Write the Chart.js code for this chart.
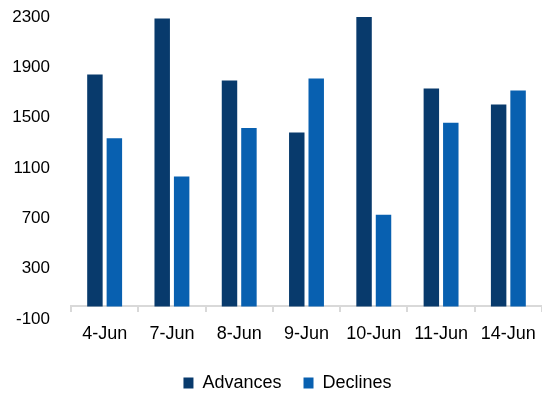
<!DOCTYPE html>
<html>
<head>
<meta charset="utf-8">
<script src="https://cdn.jsdelivr.net/npm/chart.js@4/dist/chart.umd.min.js"></script>
<style>
  html, body { margin: 0; padding: 0; background: #ffffff; }
  #wrap { width: 542px; height: 393px; position: relative; }
</style>
</head>
<body>
<div id="wrap"><canvas id="chart"></canvas></div>
<script>
// Daily market breadth: number of advancing vs declining issues
const categories = ['4-Jun', '7-Jun', '8-Jun', '9-Jun', '10-Jun', '11-Jun', '14-Jun'];
const advances = [1844, 2289, 1796, 1383, 2311, 1732, 1604];
const declines = [1337, 1033, 1417, 1812, 729, 1460, 1716];
const yMin = -100;
const yMax = 2300;
const yStep = 400;

const labelFont = "'Liberation Sans', Arial, sans-serif";
const axisGrey = '#d9d9d9';

// Nudge the legend row to the right of the canvas centre
const legendShift = {
  id: 'legendShift',
  afterLayout(chart) {
    const lg = chart.legend;
    if (lg) { lg.left += 16; lg.right += 16; }
  }
};

new Chart(document.getElementById('chart'), {
  type: 'bar',
  data: {
    labels: categories,
    datasets: [
      { label: 'Advances', data: advances, backgroundColor: '#083a6c',
        categoryPercentage: 0.578, barPercentage: 0.795 },
      { label: 'Declines', data: declines, backgroundColor: '#0860b0',
        categoryPercentage: 0.578, barPercentage: 0.795 }
    ]
  },
  plugins: [legendShift],
  options: {
    responsive: true,
    maintainAspectRatio: false,
    animation: false,
    layout: { padding: { top: 17, right: -1, left: 0, bottom: -9 } },
    plugins: {
      tooltip: { enabled: false },
      legend: {
        position: 'bottom',
        // empty title used as a spacer between the axis labels and the legend row
        title: { display: true, text: '', font: { size: 10 }, padding: { top: 21, bottom: 0 } },
        labels: {
          boxWidth: 10,
          boxHeight: 11,
          padding: 22,
          color: '#000000',
          font: { family: labelFont, size: 18 }
        }
      }
    },
    scales: {
      x: {
        position: { y: 0 },
        grid: {
          display: true,
          drawOnChartArea: false,
          drawTicks: true,
          tickLength: 5,
          color: axisGrey,
          lineWidth: 2,
          offset: true
        },
        border: { display: true, color: axisGrey, width: 2 },
        ticks: {
          color: '#000000',
          padding: 12,
          maxRotation: 0,
          autoSkip: false,
          font: { family: labelFont, size: 18 }
        },
        afterFit: (scale) => { scale.paddingLeft = 0; scale.paddingRight = 0; }
      },
      y: {
        min: yMin,
        max: yMax,
        grid: { display: false, drawTicks: false },
        border: { display: false },
        ticks: {
          stepSize: yStep,
          padding: 21,
          color: '#000000',
          font: { family: labelFont, size: 17 },
          callback: (value) => String(value)
        },
        afterFit: (scale) => {
          scale.width = 71;
          scale.paddingTop = 0;
          scale.paddingBottom = 0;
        }
      }
    }
  }
});
</script>
</body>
</html>
